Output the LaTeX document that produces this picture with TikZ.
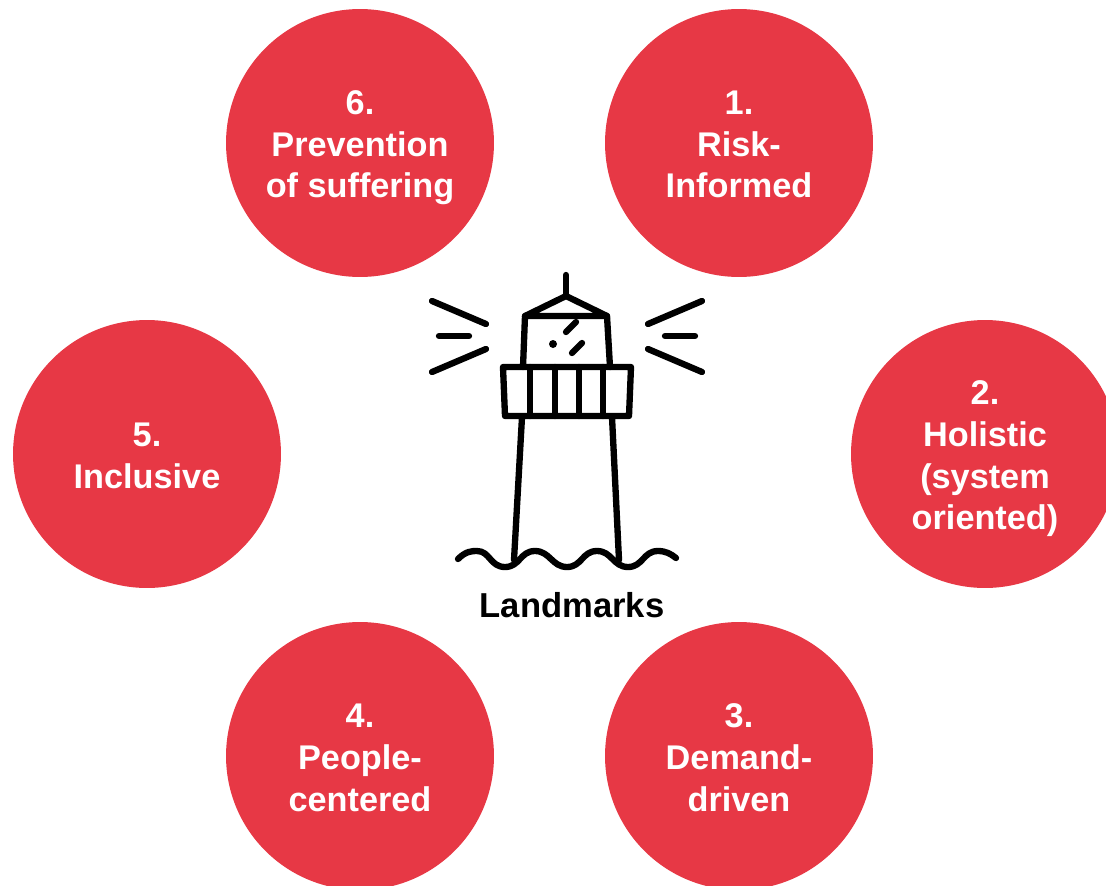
\documentclass[tikz,border=0pt]{standalone}
\usepackage{fontspec}
\setmainfont{Liberation Sans}
\definecolor{petalred}{HTML}{E73845}
\tikzstyle{landmark}=[shape=circle,fill=petalred,text=white,minimum size=5.36cm,inner sep=0pt,align=center,font=\fontsize{19.5}{23.8}\selectfont\bfseries]
\tikzstyle{lamp}=[draw=black,line width=3.6pt,line cap=round,line join=round]
\newcommand{\landmark}[4]{\node[landmark] (#1) at (#2,#3) {\rule{0pt}{20pt}#4\rule[-5pt]{0pt}{5pt}};}
\newcommand{\beam}[4]{\draw[lamp] (#1,#2) -- (#3,#4);}

\begin{document}
\begin{tikzpicture}[x=0.02cm,y=-0.02cm]
    \useasboundingbox (0,0) rectangle (1106,886);
    \clip (0,0) rectangle (1106,886);

    \landmark{risk}{739}{143}{1.\\Risk-\\Informed}
    \landmark{holistic}{985}{454}{2.\\Holistic\\(system\\oriented)}
    \landmark{demand}{739}{756}{3.\\Demand-\\driven}
    \landmark{people}{360}{756}{4.\\People-\\centered}
    \landmark{inclusive}{147}{454}{5.\\Inclusive}
    \landmark{prevention}{360}{143}{6.\\Prevention\\of suffering}

    % light beams
    \beam{432}{301}{486}{324}
    \beam{439}{336}{469}{336}
    \beam{432}{372}{486}{349}
    \beam{702}{301}{648}{324}
    \beam{665}{336}{695}{336}
    \beam{702}{372}{648}{349}

    % tower
    \draw[lamp] (566,275) -- (566,296);
    \draw[lamp] (525,316) -- (566,296) -- (607,316) -- cycle;
    \draw[lamp] (525,316) -- (523,367);
    \draw[lamp] (607,316) -- (610,367);
    \draw[lamp] (503,367) -- (631,367) -- (629,416) -- (505,416) -- cycle;
    \foreach \x in {530,555,579,603}
        \draw[lamp] (\x,367) -- (\x,416);
    \draw[lamp] (522,417) -- (514,560);
    \draw[lamp] (612,417) -- (619,560);

    % glass
    \draw[lamp] (566,332) -- (576,322);
    \draw[lamp] (572,353) -- (582,343);
    \fill (553,344) circle (4);

    % water
    \draw[lamp] (458,559) .. controls (466,551) and (472,551) .. (477,551)
        .. controls (490,551) and (490,567) .. (505,567)
        .. controls (520,567) and (520,551) .. (535,551)
        .. controls (550,551) and (552,567) .. (567,567)
        .. controls (582,567) and (582,551) .. (597,551)
        .. controls (612,551) and (613,567) .. (628,567)
        .. controls (643,567) and (643,551) .. (658,551)
        .. controls (666,551) and (671,554) .. (676,558);

    \node[font=\fontsize{19.7}{23.8}\selectfont\bfseries,text=black] (title) at (572,605) {Landmarks};
\end{tikzpicture}
\end{document}
